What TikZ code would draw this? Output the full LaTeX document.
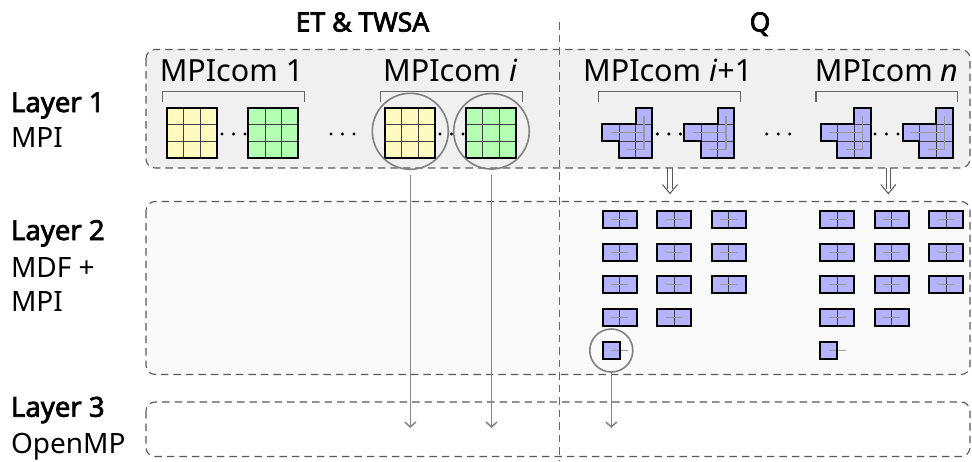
\documentclass[tikz,border=0pt]{standalone}
\usepackage{fontspec}
\setmainfont{Noto Sans}[BoldFont={Noto Sans}, BoldFeatures={FakeBold=2.6}]
\usetikzlibrary{arrows.meta,calc}
\definecolor{cyel}{RGB}{255,250,192}
\definecolor{cgrn}{RGB}{179,255,179}
\definecolor{cblu}{RGB}{179,179,255}
\newcommand\mygrid[3]{\begin{scope}[shift={(#1,#2)}]
 \fill[#3] (0,0) rectangle (50,50);
 \draw[gridline] (16.667,0) -- (16.667,50) (33.333,0) -- (33.333,50) (0,16.667) -- (50,16.667) (0,33.333) -- (50,33.333);
 \draw[outl] (0,0) rectangle (50,50);
\end{scope}}
\newcommand\mylshape[2]{\begin{scope}[shift={(#1,#2)}]
 \fill[cblu] (33.333,0) -- (50,0) -- (50,50) -- (16.667,50) -- (16.667,33.333) -- (0,33.333) -- (0,16.667) -- (33.333,16.667) -- cycle;
 \draw[gridline] (16.667,16.667) -- (16.667,33.333) (33.333,16.667) -- (33.333,50) (33.333,16.667) -- (50,16.667) (16.667,33.333) -- (50,33.333);
 \draw[pathln] (8.333,25) -- (41.667,25) (41.667,8.333) -- (41.667,41.667) -- (25,41.667);
 \draw[outl] (33.333,0) -- (50,0) -- (50,50) -- (16.667,50) -- (16.667,33.333) -- (0,33.333) -- (0,16.667) -- (33.333,16.667) -- cycle;
\end{scope}}
\newcommand\myblock[2]{\begin{scope}[shift={(#1,#2)}]
 \fill[cblu] (0,0) rectangle (34,17);
 \draw[gridline] (17,0) -- (17,17);
 \draw[pathln] (8.5,8.5) -- (25.5,8.5);
 \draw[outl] (0,0) rectangle (34,17);
\end{scope}}
\newcommand\mycell[2]{\begin{scope}[shift={(#1,#2)}]
 \fill[cblu] (0,0) rectangle (17,17);
 \draw[pathln] (8.5,8.5) -- (25.5,8.5);
 \draw[outl] (0,0) rectangle (17,17);
\end{scope}}
\newcommand\mydots[2]{\foreach \dx in {0,11.5,23}{\fill (#1+\dx,#2) circle (1.7pt);}}
\newcommand\mybrk[2]{\draw[brk] (#1,102.3) -- (#1,91.7) -- (#2,91.7) -- (#2,102.3);}
\newcommand\mydbl[2]{% start coordinate, end coordinate
 \draw[dblhead] ($(#1)+(-2.1,0)$) -- ($(#2)+(-2.1,-4.5)$) ($(#1)+(2.1,0)$) -- ($(#2)+(2.1,-4.5)$);
 \draw[dblhead] ($(#2)+(-7.5,-9)$) -- (#2) -- ($(#2)+(7.5,-9)$);}
\begin{document}
\begin{tikzpicture}[x=1pt,y=-1pt,
  every node/.style={inner sep=0pt, outer sep=0pt},
  layerbox/.style={draw=black!65, dash pattern=on 7.5pt off 5pt, line width=1.1pt, rounded corners=9pt},
  brk/.style={draw=black!60, line width=1.3pt},
  gridline/.style={black!75, line width=0.9pt},
  outl/.style={draw=black, line width=2pt, line join=miter},
  pathln/.style={black!40, line width=1.3pt},
  ring/.style={circle, draw=black!50, line width=1.6pt},
  arr/.style={draw=black!48, line width=1.5pt, -{Straight Barb[length=5pt,width=11pt]}},
  dblhead/.style={draw=black!65, line width=1pt, line join=miter},
  com/.style={font=\fontsize{30.5pt}{36pt}\selectfont, anchor=base},
  ttl/.style={font=\bfseries\fontsize{26.5pt}{30pt}\selectfont, anchor=base},
  labb/.style={font=\bfseries\fontsize{27.5pt}{30pt}\selectfont, anchor=base west},
  lab/.style={font=\fontsize{28pt}{30pt}\selectfont, anchor=base west},
  ]
\useasboundingbox (0,0) rectangle (972,461);
% layer boxes
\draw[layerbox, fill=black!6] (146,49.5) rectangle (970,168);
\draw[layerbox, fill=black!2] (146,201.5) rectangle (970,374.5);
\draw[layerbox] (146,402) rectangle (970,456.5);
% separator
\coordinate (sepT) at (559.5,22);
\coordinate (sepB) at (559.5,461);
\draw[black!60, line width=1.1pt, dash pattern=on 7.5pt off 5pt] (sepT) -- (sepB);
% titles
\node[ttl] (t1) at (362.5,31.5) {ET \& TWSA};
\node[ttl] (t2) at (760,31.5) {Q};
% layer labels
\node[labb] (L1a) at (11,112) {Layer 1};
\node[lab] (L1b) at (11,147.5) {MPI};
\node[labb] (L2a) at (11,240) {Layer 2};
\node[lab] (L2b) at (11,277.3) {MDF +};
\node[lab] (L2c) at (11,311.7) {MPI};
\node[labb] (L3a) at (11,416.7) {Layer 3};
\node[lab] (L3b) at (11,453.3) {OpenMP};
% MPIcom labels
\node[com] (m1) at (231.5,81.7) {MPIcom 1};
\node[com] (m2) at (450.3,81.7) {MPIcom \textit{i}};
\node[com] (m3) at (667.7,81.7) {MPIcom \textit{i}+1};
\node[com] (m4) at (886.7,81.7) {MPIcom \textit{n}};
% brackets
\mybrk{162.7}{304.3}
\mybrk{380.7}{522.3}
\mybrk{598.3}{740.7}
\mybrk{816}{957.7}
% grids
\mygrid{166.7}{107.7}{cyel}
\mygrid{248.3}{107.7}{cgrn}
\mygrid{385}{107.7}{cyel}
\mygrid{466}{107.7}{cgrn}
% L-shapes
\mylshape{602.3}{107.7}
\mylshape{684.3}{107.7}
\mylshape{820.7}{107.7}
\mylshape{902.7}{107.7}
% dots
\mydots{222}{134}
\mydots{331}{134}
\mydots{440}{134}
\mydots{657.3}{134}
\mydots{766.7}{134}
\mydots{875}{134}
% layer 2 blocks
\foreach \bx in {602.7,657.3,711.7,820.3,874.7,929.3}{
  \foreach \by in {211,243.7,276.3}{\myblock{\bx}{\by}}}
\foreach \bx in {602.7,657.3,820.3,874.7}{\myblock{\bx}{309}}
\mycell{602.7}{341.7}
\mycell{820.3}{341.7}
% double arrows
\coordinate (d1s) at (670,168);
\coordinate (d1e) at (670,193.5);
\coordinate (d2s) at (888.3,168);
\coordinate (d2e) at (888.3,193.5);
\mydbl{d1s}{d1e}
\mydbl{d2s}{d2e}
% rings
\node[ring, minimum size=76pt] (c1) at (410.3,131.3) {};
\node[ring, minimum size=75.5pt] (c2) at (491.5,131.3) {};
\node[ring, minimum size=43pt] (c3) at (611.3,350.5) {};
% arrows
\coordinate (e1) at (410.3,428);
\coordinate (e2) at (491.5,428);
\coordinate (e3) at (611.3,428);
\draw[arr] ([yshift=-6pt]c1.south) -- (e1);
\draw[arr] ([yshift=-6pt]c2.south) -- (e2);
\draw[arr] (c3.south) -- (e3);
\end{tikzpicture}
\end{document}
